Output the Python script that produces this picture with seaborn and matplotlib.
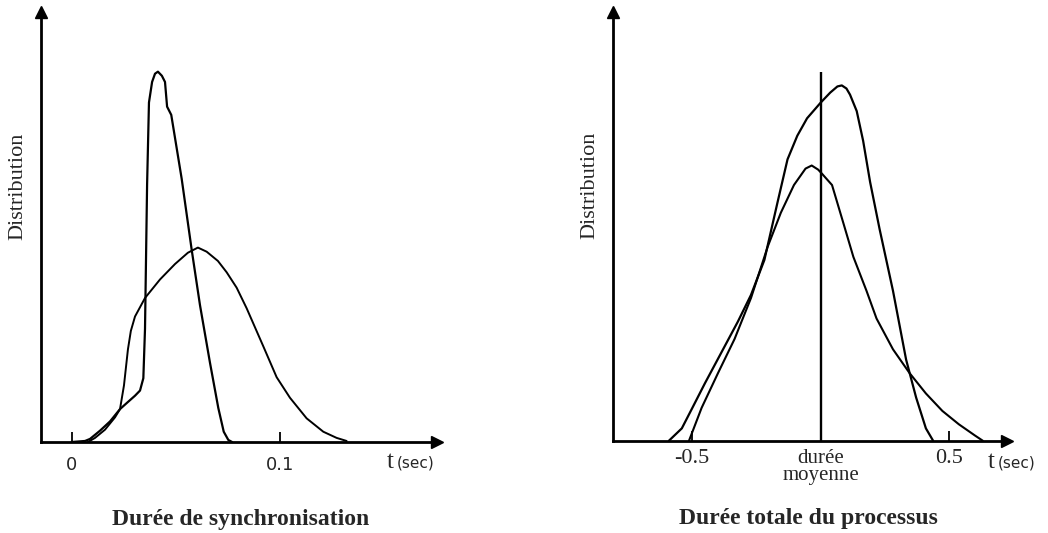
import numpy as np
import pandas as pd
import matplotlib
matplotlib.use("Agg")
import matplotlib.pyplot as plt
import seaborn as sns

# ---------------- data (arbitrary "Distribution" units) ----------
# Left panel : Durée de synchronisation
sync_narrow_t = [0.0000, 0.0064, 0.0088, 0.0136, 0.0184, 0.0232, 0.0265, 0.0304, 0.0328,
                 0.0344, 0.0352, 0.0362, 0.0371, 0.0386, 0.0400, 0.0414, 0.0433, 0.0448,
                 0.0458, 0.0478, 0.0528, 0.0576, 0.0616, 0.0664, 0.0704, 0.0730, 0.0752, 0.0770]
sync_narrow_h = [0, 1, 3, 11, 20, 32, 38, 45, 50,
                 62, 110, 250, 330, 350, 358, 360, 356, 350,
                 326, 318, 256, 187, 133, 77, 33, 10, 2, 0]

sync_broad_t = [0.0078, 0.0112, 0.0160, 0.0208, 0.0232, 0.0251, 0.0270, 0.0284, 0.0304,
                0.0352, 0.0424, 0.0496, 0.0558, 0.0606, 0.0648, 0.0702, 0.0744, 0.0792,
                0.0840, 0.0920, 0.0984, 0.1048, 0.1128, 0.1208, 0.1272, 0.1320]
sync_broad_h = [0, 4, 12, 24, 32, 55, 90, 108, 122,
                140, 158, 173, 184, 189, 185, 176, 165, 150,
                130, 93, 63, 43, 23, 10, 4, 1]

sync_ticks = [0.0, 0.1]
sync_tick_labels = ["0", "0.1"]

# Right panel : Durée totale du processus
total_tall_t = [-0.590, -0.540, -0.501, -0.450, -0.386, -0.322, -0.271, -0.219, -0.168,
                -0.129, -0.091, -0.053, -0.001, 0.037, 0.065, 0.082, 0.100, 0.114,
                0.140, 0.165, 0.192, 0.229, 0.281, 0.332, 0.371, 0.409, 0.437]
total_tall_h = [0, 12, 31, 56, 86, 116, 142, 176, 232,
                274, 297, 314, 329, 339, 345, 346, 343, 337,
                321, 292, 252, 206, 146, 79, 42, 12, 0]

total_small_t = [-0.512, -0.463, -0.399, -0.335, -0.271, -0.206, -0.155, -0.104, -0.059,
                 -0.035, -0.010, 0.005, 0.044, 0.088, 0.127, 0.178, 0.217, 0.281,
                 0.345, 0.409, 0.473, 0.537, 0.600, 0.630]
total_small_h = [0, 32, 66, 99, 139, 189, 222, 249, 265,
                 268, 264, 260, 249, 212, 179, 146, 119, 89,
                 66, 46, 29, 16, 5, 0]

mean_t = 0.0
mean_line_height = 359
mean_label = "durée\nmoyenne"

total_ticks = [-0.5, 0.5]
total_tick_labels = ["-0.5", "0.5"]

# ---------------- figure ----------------
sns.set_theme(style="white")
plt.rcParams["font.family"] = ["Liberation Serif", "DejaVu Serif"]

W, H = 1048, 533
fig = plt.figure(figsize=(W / 100, H / 100), dpi=100)
fig.patch.set_facecolor("white")


def px(x, y):
    return x / W, 1 - y / H


axL = fig.add_axes([0.03884, 0.17073, 0.37815, 0.80675])
axR = fig.add_axes([0.58464, 0.17317, 0.37624, 0.80432])

for ax in (axL, axR):
    ax.set_facecolor("white")
    for s in ("top", "right"):
        ax.spines[s].set_visible(False)
    for s in ("left", "bottom"):
        ax.spines[s].set_color("black")
        ax.spines[s].set_linewidth(2.0)
    ax.tick_params(axis="y", left=False, labelleft=False)
    ax.tick_params(axis="x", bottom=True, direction="in", length=7, width=1.3,
                   color="black")
    # arrow heads
    ax.plot(1, 0, marker=">", color="black", markersize=8,
            transform=ax.transAxes, clip_on=False)
    ax.plot(0, 1, marker="^", color="black", markersize=8,
            transform=ax.transAxes, clip_on=False)
    ax.grid(False)

# left panel
dfl1 = pd.DataFrame({"t": sync_narrow_t, "h": sync_narrow_h})
dfl2 = pd.DataFrame({"t": sync_broad_t, "h": sync_broad_h})
sns.lineplot(data=dfl1, x="t", y="h", ax=axL, color="black", lw=1.6,
             estimator=None, sort=False)
sns.lineplot(data=dfl2, x="t", y="h", ax=axL, color="black", lw=1.4,
             estimator=None, sort=False)
axL.set_xlim(-0.01488, 0.1754)
axL.set_ylim(0, 418)
axL.set_xticks(sync_ticks)
axL.set_xticklabels(sync_tick_labels, fontsize=13, family="DejaVu Sans")
axL.tick_params(axis="x", pad=10)
axL.set_xlabel("")
axL.set_ylabel("")

# right panel
dfr1 = pd.DataFrame({"t": total_tall_t, "h": total_tall_h})
dfr2 = pd.DataFrame({"t": total_small_t, "h": total_small_h})
sns.lineplot(data=dfr1, x="t", y="h", ax=axR, color="black", lw=1.6,
             estimator=None, sort=False)
sns.lineplot(data=dfr2, x="t", y="h", ax=axR, color="black", lw=1.5,
             estimator=None, sort=False)
axR.vlines(mean_t, 0, mean_line_height, color="black", lw=1.7)
axR.set_xlim(-0.8087, 0.7243)
axR.set_ylim(0, 417.5)
axR.set_xticks(total_ticks)
axR.set_xticklabels(total_tick_labels, fontsize=16, family="Liberation Serif")
axR.tick_params(axis="x", pad=6)
axR.set_xlabel("")
axR.set_ylabel("")

# y labels
fig.text(*px(18, 186), "Distribution", rotation=90, ha="center", va="center",
         fontsize=16, family="Liberation Serif")
fig.text(*px(590, 185), "Distribution", rotation=90, ha="center", va="center",
         fontsize=16, family="Liberation Serif")

# t(sec) labels
for xt in (387, 988):
    fig.text(*px(xt, 468), "t", ha="left", va="baseline", fontsize=18,
             family="Liberation Serif")
    fig.text(*px(xt + 10, 468), "(sec)", ha="left", va="baseline", fontsize=11,
             family="DejaVu Sans")

# durée moyenne (one text, tight line spacing)
fig.text(*px(821, 467), mean_label, ha="center", va="center", ma="center",
         fontsize=15, linespacing=0.8, family="Liberation Serif")

# panel titles
fig.text(*px(241, 525), "Durée de synchronisation", ha="center", va="baseline",
         fontsize=17, fontweight="bold", family="Liberation Serif")
fig.text(*px(808, 524), "Durée totale du processus", ha="center", va="baseline",
         fontsize=17, fontweight="bold", family="Liberation Serif")

fig.savefig("out.png", dpi=100, facecolor="white")
